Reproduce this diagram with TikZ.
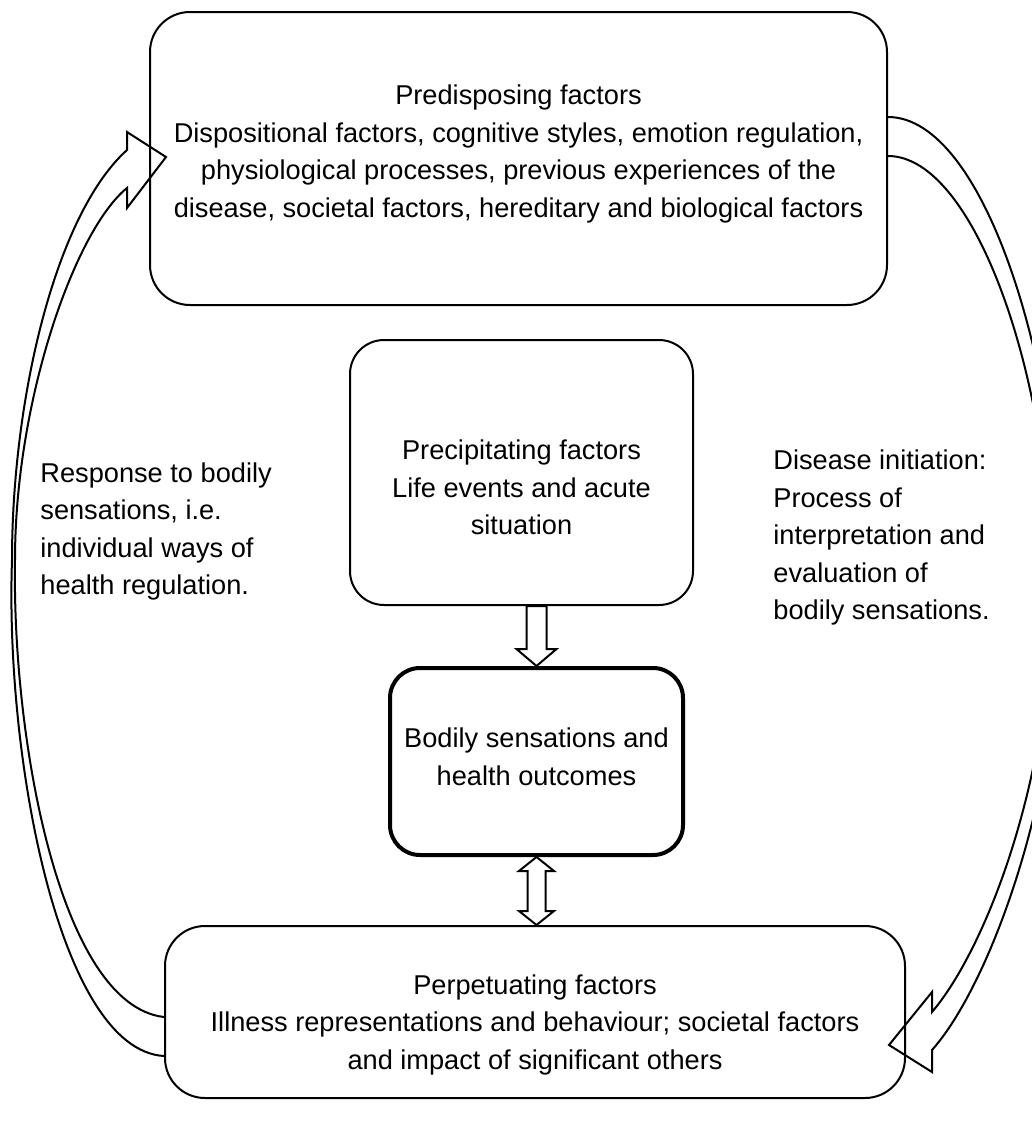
\documentclass[tikz,border=0pt]{standalone}
\usepackage{fontspec}
\setmainfont{Liberation Sans}
\usetikzlibrary{calc}

\tikzset{
  factorbox/.style={draw, line width=1pt, rounded corners=20pt, inner sep=0pt},
  boxtext/.style={align=center, inner sep=0pt},
  sidetext/.style={align=left, inner sep=0pt, anchor=west},
  blockarrow/.style={draw, line width=1pt, fill=white, line join=miter},
  curvedarrow/.style={draw, line width=1pt, line join=miter}
}

% hollow block arrows between the boxes
\newcommand\downblock[2]{%
  \draw[blockarrow] let \p1=(#1), \p2=(#2) in
    (\x1-5pt,\y1) -- (\x1-5pt,\y2+8.5pt) -- (\x1-10pt,\y2+8.5pt) -- (\x1,\y2)
    -- (\x1+10pt,\y2+8.5pt) -- (\x1+5pt,\y2+8.5pt) -- (\x1+5pt,\y1) -- cycle;}
\newcommand\twowayblock[2]{%
  \draw[blockarrow] let \p1=(#1), \p2=(#2) in
    (\x1,\y1) -- (\x1+8.75pt,\y1-7pt) -- (\x1+4.5pt,\y1-7pt) -- (\x1+4.5pt,\y2+7pt)
    -- (\x1+8.75pt,\y2+7pt) -- (\x1,\y2) -- (\x1-8.75pt,\y2+7pt) -- (\x1-4.5pt,\y2+7pt)
    -- (\x1-4.5pt,\y1-7pt) -- (\x1-8.75pt,\y1-7pt) -- cycle;}

\begin{document}
\begin{tikzpicture}[x=0.5pt, y=-0.5pt, font=\fontsize{13.6}{18.75}\selectfont]
  \useasboundingbox (0,0) rectangle (1032,1126);

  % boxes
  \node[factorbox, minimum width=368.5pt, minimum height=146.5pt,
    label={[boxtext, name=predisptext, yshift=2.25pt]center:Predisposing factors\\Dispositional factors, cognitive styles, emotion regulation,\\physiological processes, previous experiences of the\\disease, societal factors, hereditary and biological factors}]
    (predisp) at (518.5,158.5) {};
  \node[factorbox, rounded corners=17pt, minimum width=171.5pt, minimum height=132.5pt,
    label={[boxtext, name=preciptext, yshift=-7.5pt]center:Precipitating factors\\Life events and acute\\situation}]
    (precip) at (521.5,472.5) {};
  \node[factorbox, line width=2pt, rounded corners=15pt, minimum width=146.5pt, minimum height=93.5pt,
    label={[boxtext, name=bodilytext, yshift=2.25pt]center:Bodily sensations and\\health outcomes}]
    (bodily) at (536.5,761.5) {};
  \node[factorbox, minimum width=370pt, minimum height=86pt,
    label={[boxtext, name=perpettext, yshift=-6.25pt]center:Perpetuating factors\\Illness representations and behaviour; societal factors\\and impact of significant others}]
    (perpet) at (535,1012) {};

  % side texts
  \node[sidetext] (response) at (40,531.5)
    {Response to bodily\\sensations, i.e.\\individual ways of\\health regulation.};
  \node[sidetext] (initiation) at (773,537.5)
    {Disease initiation:\\Process of\\interpretation and\\evaluation of\\bodily sensations.};

  % straight block arrows
  \downblock{bodily.north |- precip.south}{bodily.north}
  \twowayblock{bodily.south}{bodily.south |- perpet.north}

  % curved arrow, perpetuating -> predisposing
  \draw[curvedarrow] (perpet.west |- 0,1056) .. controls (60,1050) and (5,760) .. (12,560)
    .. controls (12,400) and (55,215) .. (127,150) -- (127,132) -- (166,157) -- (127,208) -- (127,188)
    .. controls (75,230) and (15,400) .. (15,560)
    .. controls (12,740) and (60,1005) .. (perpet.west |- 0,1017);

  % curved arrow, predisposing -> perpetuating
  \draw[curvedarrow] (predisp.east |- 0,117) .. controls (985,117) and (1062,370) .. (1062,590)
    .. controls (1062,790) and (990,985) .. (932,1050) -- (932,1072) -- (889,1045) -- (932,992) -- (932,1012)
    .. controls (985,950) and (1052,780) .. (1052,590)
    .. controls (1052,380) and (975,156) .. (predisp.east |- 0,156);
\end{tikzpicture}
\end{document}
